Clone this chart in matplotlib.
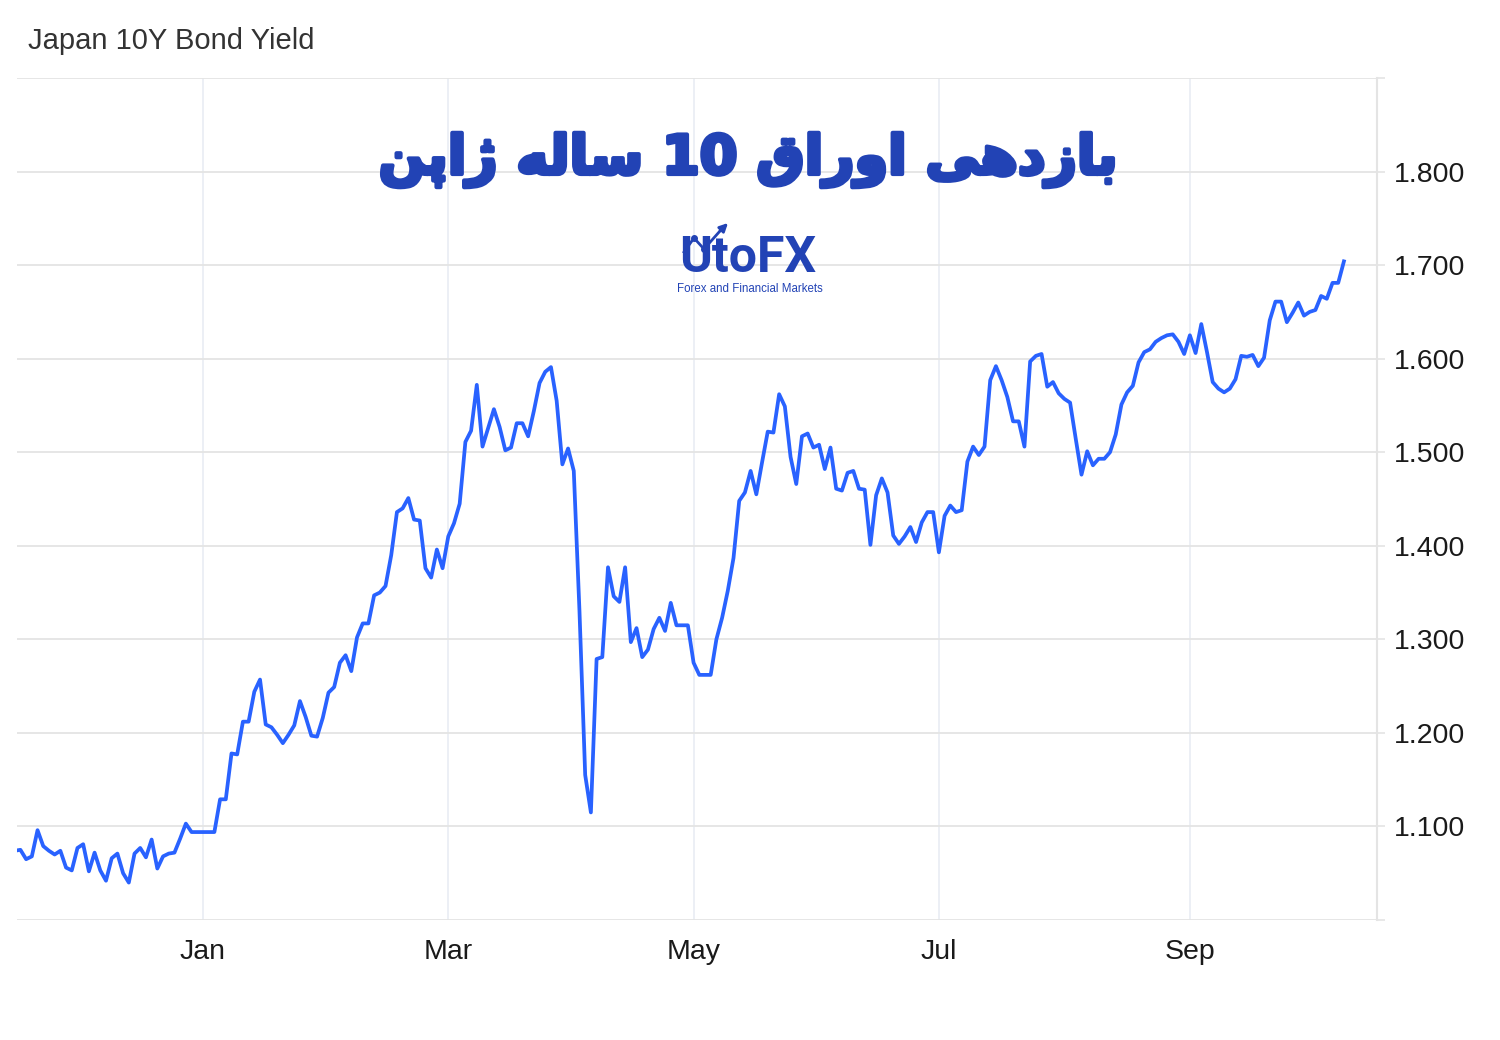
import numpy as np
import pandas as pd
import matplotlib
matplotlib.use('Agg')
import matplotlib.pyplot as plt
import matplotlib.patheffects as pe
from matplotlib.lines import Line2D

# daily (business day) closes, Japan 10Y JGB yield
start_date = '2024-11-15'
yields = [
    1.074, 1.075, 1.065, 1.068, 1.096, 1.079, 1.074, 1.070, 1.074, 1.056,
    1.053, 1.077, 1.081, 1.052, 1.072, 1.053, 1.042, 1.066, 1.071, 1.050,
    1.040, 1.071, 1.077, 1.067, 1.086, 1.055, 1.068, 1.071, 1.072, 1.087,
    1.103, 1.094, 1.094, 1.094, 1.094, 1.094, 1.129, 1.129, 1.178, 1.177,
    1.212, 1.212, 1.244, 1.257, 1.209, 1.206, 1.198, 1.189, 1.198, 1.208,
    1.234, 1.217, 1.197, 1.196, 1.216, 1.243, 1.249, 1.275, 1.283, 1.266,
    1.302, 1.317, 1.317, 1.347, 1.350, 1.357, 1.390, 1.436, 1.440, 1.451,
    1.428, 1.427, 1.376, 1.366, 1.396, 1.376, 1.410, 1.424, 1.445, 1.511,
    1.523, 1.572, 1.506, 1.526, 1.546, 1.527, 1.502, 1.505, 1.531, 1.531,
    1.517, 1.544, 1.574, 1.586, 1.591, 1.555, 1.487, 1.504, 1.480, 1.330,
    1.155, 1.115, 1.279, 1.281, 1.377, 1.346, 1.340, 1.377, 1.297, 1.312,
    1.281, 1.289, 1.311, 1.323, 1.309, 1.339, 1.315, 1.315, 1.315, 1.275,
    1.262, 1.262, 1.262, 1.300, 1.323, 1.352, 1.387, 1.448, 1.457, 1.480,
    1.455, 1.489, 1.522, 1.521, 1.562, 1.549, 1.495, 1.466, 1.517, 1.520,
    1.505, 1.508, 1.482, 1.505, 1.461, 1.459, 1.478, 1.480, 1.461, 1.460,
    1.401, 1.454, 1.472, 1.457, 1.411, 1.402, 1.410, 1.420, 1.404, 1.425,
    1.436, 1.436, 1.393, 1.432, 1.443, 1.436, 1.438, 1.490, 1.506, 1.497,
    1.506, 1.577, 1.592, 1.577, 1.559, 1.533, 1.533, 1.506, 1.597, 1.603,
    1.605, 1.570, 1.575, 1.563, 1.557, 1.553, 1.514, 1.476, 1.501, 1.486,
    1.493, 1.493, 1.500, 1.519, 1.551, 1.564, 1.571, 1.596, 1.607, 1.610,
    1.618, 1.622, 1.625, 1.626, 1.618, 1.605, 1.625, 1.606, 1.637, 1.607,
    1.575, 1.568, 1.564, 1.568, 1.578, 1.603, 1.602, 1.604, 1.592, 1.601,
    1.641, 1.661, 1.661, 1.639, 1.649, 1.660, 1.646, 1.650, 1.652, 1.667,
    1.664, 1.681, 1.681, 1.704,
]
month_ticks = ['2025-01-01', '2025-03-01', '2025-05-01', '2025-07-01', '2025-09-01']
month_labels = ['Jan', 'Mar', 'May', 'Jul', 'Sep']
y_ticks = [1.0, 1.1, 1.2, 1.3, 1.4, 1.5, 1.6, 1.7, 1.8, 1.9]

chart_title = 'Japan 10Y Bond Yield'
fa_title = 'بازدهی اوراق 10 ساله ژاپن'
logo_name = 'UtoFX'
logo_sub = 'Forex and Financial Markets'

# matplotlib has no arabic shaping -> pick presentation forms by hand
FORMS = {  # isolated, final, initial, medial
    'ا': ('\uFE8D', '\uFE8E', None, None),
    'ب': ('\uFE8F', '\uFE90', '\uFE91', '\uFE92'),
    'پ': ('\uFB56', '\uFB57', '\uFB58', '\uFB59'),
    'د': ('\uFEA9', '\uFEAA', None, None),
    'ر': ('\uFEAD', '\uFEAE', None, None),
    'ز': ('\uFEAF', '\uFEB0', None, None),
    'ژ': ('\uFB8A', '\uFB8B', None, None),
    'س': ('\uFEB1', '\uFEB2', '\uFEB3', '\uFEB4'),
    'ق': ('\uFED5', '\uFED6', '\uFED7', '\uFED8'),
    'ل': ('\uFEDD', '\uFEDE', '\uFEDF', '\uFEE0'),
    'ن': ('\uFEE5', '\uFEE6', '\uFEE7', '\uFEE8'),
    'ه': ('\uFEE9', '\uFEEA', '\uFEEB', '\uFEEC'),
    'و': ('\uFEED', '\uFEEE', None, None),
    'ی': ('\uFEEF', '\uFEF0', '\uFEF3', '\uFEF4'),
}


def shape_word(w):
    if w[0] not in FORMS:
        return w
    out = []
    for i, c in enumerate(w):
        iso, fin, ini, med = FORMS[c]
        prev_joins = i > 0 and FORMS[w[i - 1]][2] is not None
        next_joins = i < len(w) - 1 and ini is not None
        if prev_joins and next_joins:
            out.append(med)
        elif prev_joins:
            out.append(fin)
        elif next_joins:
            out.append(ini)
        else:
            out.append(iso)
    return ''.join(reversed(out))


def rtl(text):
    return ' '.join(shape_word(w) for w in reversed(text.split()))


dates = pd.bdate_range(start_date, periods=len(yields))
x = np.arange(len(yields))
tick_pos = [int(np.searchsorted(dates, pd.Timestamp(m))) for m in month_ticks]

plt.rcParams['font.family'] = ['Liberation Sans', 'DejaVu Sans']

fig = plt.figure(figsize=(15, 10.4), dpi=100)
ax = fig.add_axes([17 / 1500, 120 / 1040, 1360 / 1500, 842 / 1040])

grid_h = '#e4e4e4'
grid_v = '#ebeef4'
blue_logo = '#2243b5'

ax.plot(x, yields, color='#2962ff', lw=2.7, zorder=3)

ax.set_xlim(0.4, 238.8)
ax.set_ylim(1.0, 1.9)

ax.yaxis.tick_right()
ax.set_yticks(y_ticks)
ax.set_yticklabels(['' if v in (1.0, 1.9) else f'{v:.3f}' for v in y_ticks])
ax.set_xticks(tick_pos)
ax.set_xticklabels(month_labels)

ax.tick_params(axis='y', direction='out', length=6, width=1.2, color=grid_h,
               labelsize=20.5, labelcolor='#1a1a1a', pad=6)
ax.tick_params(axis='x', length=0, labelsize=20.5, labelcolor='#1a1a1a', pad=14)

for s in ['top', 'left', 'bottom']:
    ax.spines[s].set_visible(False)
ax.spines['right'].set_color(grid_h)
ax.spines['right'].set_linewidth(1.5)

ax.grid(axis='y', color=grid_h, lw=1.3)
ax.grid(axis='x', color=grid_v, lw=1.3)
ax.set_axisbelow(True)

fig.text(28 / 1500, 1 - 41 / 1040, chart_title, fontsize=21, color='#333333',
         ha='left', va='center')

fa = fig.text(748 / 1500, 1 - 160 / 1040, rtl(fa_title), family='DejaVu Sans',
              fontweight='bold', fontsize=39, color=blue_logo, ha='center', va='center')
fa.set_path_effects([pe.withStroke(linewidth=3, foreground=blue_logo)])

fig.text(748 / 1500, 1 - 258 / 1040, logo_name, family='Roboto', fontweight='bold',
         fontsize=36, color=blue_logo, ha='center', va='center')
fig.text(750 / 1500, 1 - 289 / 1040, logo_sub, fontsize=8.3, color=blue_logo,
         ha='center', va='center')

# zigzag arrow of the logo (figure pixels, origin bottom-left)
zx = np.array([684, 694, 704, 720]) / 1500
zy = 1 - np.array([252, 238, 249, 231]) / 1040
fig.add_artist(Line2D(zx, zy, transform=fig.transFigure, color=blue_logo, lw=2))
fig.add_artist(Line2D(zx[1:3], zy[1:3], transform=fig.transFigure, ls='none',
                      marker='o', ms=4, color=blue_logo))
ax.annotate('', xy=(728 / 1500, 1 - 223 / 1040), xytext=(zx[-1], zy[-1]),
            xycoords='figure fraction', textcoords='figure fraction',
            arrowprops=dict(arrowstyle='-|>', color=blue_logo, lw=2, mutation_scale=12,
                            shrinkA=0, shrinkB=0))

fig.savefig('out.png', dpi=100, facecolor='white')
